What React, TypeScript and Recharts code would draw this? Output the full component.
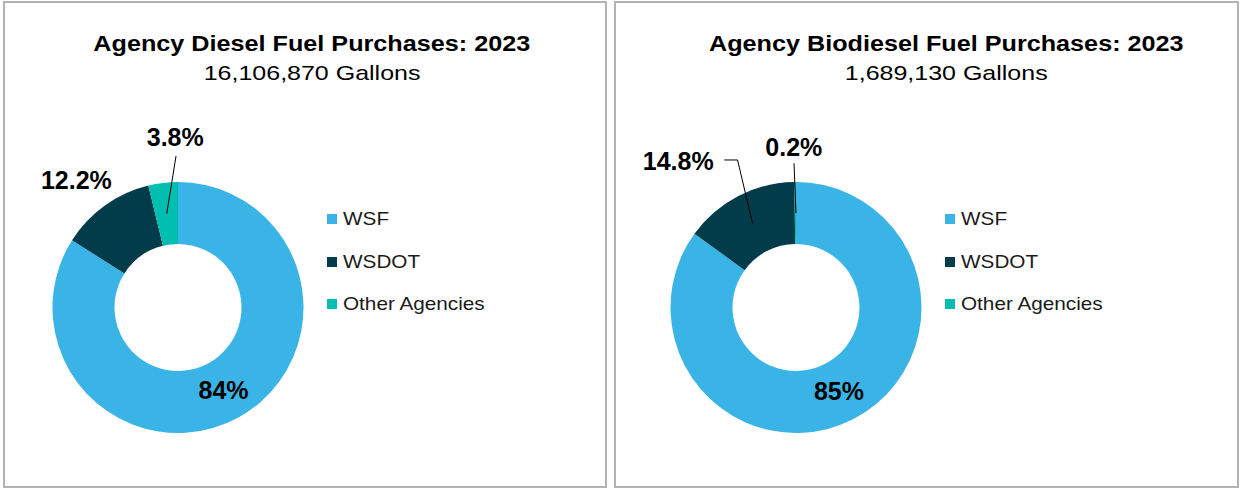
import { PieChart, Pie, Cell, Legend } from 'recharts'

const agencies = ['WSF', 'WSDOT', 'Other Agencies']
const agencyColors = ['#3AB4E6', '#023B4A', '#00BFB1']

const dieselShares = [84, 12.2, 3.8]
const biodieselShares = [85, 14.8, 0.2]

const dieselTitle = 'Agency Diesel Fuel Purchases: 2023'
const dieselTotal = '16,106,870 Gallons'
const biodieselTitle = 'Agency Biodiesel Fuel Purchases: 2023'
const biodieselTotal = '1,689,130 Gallons'

type LabelPos = { dx: number; dy: number; leader?: [number, number][] }

// label offsets, measured from the middle of the ring at each slice's mid angle
const dieselLabelPos: LabelPos[] = [
  { dx: 0, dy: 0 },
  { dx: -46.6, dy: -51 },
  { dx: 8.5, dy: -76.5, leader: [[0, 0], [9.3, -57.7]] },
]
const biodieselLabelPos: LabelPos[] = [
  { dx: 0, dy: -1 },
  { dx: -74.3, dy: -62.8, leader: [[0, 0], [-15, -63.6], [-28.3, -63.6]] },
  { dx: -1.6, dy: -66.3, leader: [[0.6, 0], [-1.4, -49.7]] },
]

const FONT = '"Liberation Sans", Arial, sans-serif'
const RAD = Math.PI / 180

const makeLabel = (shares: number[], layout: LabelPos[]) => (props: any) => {
  const { cx, cy, midAngle, innerRadius, outerRadius, index } = props
  const r = (innerRadius + outerRadius) / 2
  const ax = cx + r * Math.cos(-midAngle * RAD)
  const ay = cy + r * Math.sin(-midAngle * RAD)
  const pos = layout[index]
  return (
    <g key={`label-${index}`}>
      {pos.leader && (
        <polyline
          points={pos.leader.map(([x, y]) => `${ax + x},${ay + y}`).join(' ')}
          fill="none"
          stroke="#000"
          strokeWidth={1}
        />
      )}
      <text
        x={ax + pos.dx}
        y={ay + pos.dy + 9}
        textAnchor="middle"
        fontFamily={FONT}
        fontWeight={700}
        fontSize={25}
        fill="#000"
      >
        {shares[index]}%
      </text>
    </g>
  )
}

const LegendList = () => (
  <div style={{ fontFamily: FONT }}>
    {agencies.map((a, i) => (
      <div key={a} style={{ display: 'flex', alignItems: 'center', height: 42.5 }}>
        <div style={{ width: 10, height: 10, background: agencyColors[i], marginRight: 6, flexShrink: 0 }} />
        <span style={{ fontSize: 18.5, lineHeight: 1, color: '#1a1a1a', display: 'inline-block', transform: 'scaleX(1.12)', transformOrigin: 'left center', whiteSpace: 'nowrap' }}>
          {a}
        </span>
      </div>
    ))}
  </div>
)

interface PanelProps {
  left: number
  width: number
  titleCenter: number
  title: string
  total: string
  shares: number[]
  labelPos: LabelPos[]
  cx: number
  legendLeft: number
}

function Panel({ left, width, titleCenter, title, total, shares, labelPos, cx, legendLeft }: PanelProps) {
  const data = agencies.map((name, i) => ({ name, value: shares[i] }))
  return (
    <>
      <div style={{
        position: 'absolute', left, top: 1, width, height: 487,
        boxSizing: 'border-box', border: '2px solid #b3b3b3', background: '#fff',
      }}>
        <PieChart width={width - 4} height={483} margin={{ top: 0, right: 0, bottom: 0, left: 0 }}>
          <Pie
            data={data}
            dataKey="value"
            nameKey="name"
            cx={cx}
            cy={304.5}
            innerRadius={63.5}
            outerRadius={125.5}
            startAngle={90}
            endAngle={-270}
            stroke="none"
            labelLine={false}
            label={makeLabel(shares, labelPos)}
            isAnimationActive={false}
          >
            {data.map((d, i) => <Cell key={d.name} fill={agencyColors[i]} />)}
          </Pie>
          <Legend
            layout="vertical"
            align="right"
            verticalAlign="top"
            content={<LegendList />}
            wrapperStyle={{ left: legendLeft, right: 'auto', top: 195, width: 220 }}
          />
        </PieChart>
      </div>
      <div style={{
        position: 'absolute', left: titleCenter - 300, width: 600, top: 33,
        textAlign: 'center', fontFamily: FONT, fontWeight: 700, fontSize: 22, lineHeight: '22px', color: '#000',
      }}>
        <span style={{ display: 'inline-block', transform: 'scaleX(1.145)' }}>{title}</span>
      </div>
      <div style={{
        position: 'absolute', left: titleCenter - 300, width: 600, top: 62,
        textAlign: 'center', fontFamily: FONT, fontSize: 21, lineHeight: '21px', color: '#000',
      }}>
        <span style={{ display: 'inline-block', transform: 'scaleX(1.19)' }}>{total}</span>
      </div>
    </>
  )
}

export default function App() {
  return (
    <div style={{ position: 'absolute', left: 0, top: 0, width: 1241, height: 488, background: '#fff', overflow: 'hidden' }}>
      <Panel
        left={3} width={604} titleCenter={311.7}
        title={dieselTitle} total={dieselTotal}
        shares={dieselShares} labelPos={dieselLabelPos}
        cx={173} legendLeft={322.3}
      />
      <Panel
        left={614} width={625} titleCenter={946.5}
        title={biodieselTitle} total={biodieselTotal}
        shares={biodieselShares} labelPos={biodieselLabelPos}
        cx={180} legendLeft={329.3}
      />
    </div>
  )
}
